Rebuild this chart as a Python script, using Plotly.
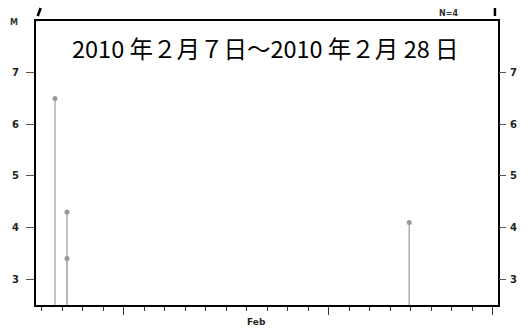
import plotly.graph_objects as go

# Event catalogue for the period
event_times = ["2010-02-07 15:34", "2010-02-08 05:37", "2010-02-08 05:38", "2010-02-24 22:20"]
magnitudes = [6.5, 4.3, 3.4, 4.1]

y_ticks = [3, 4, 5, 6, 7]
y_range = [2.5, 8.0]
x_range = ["2010-02-06 17:20", "2010-03-01 06:15"]
major_days = ["2010-02-11", "2010-02-21", "2010-03-01"]
month_label = "Feb"
month_label_at = "2010-02-17 11:00"
title_text = "2010 年２月７日～2010 年２月 28 日"
count_text = "N=%d" % len(magnitudes)

stem_color = "#b3b3b3"
dot_color = "#999999"
tick_font = dict(family="DejaVu Sans", size=10, color="#222222", weight="bold")
small_font = dict(family="DejaVu Sans", size=8, color="#333333", weight="bold")

# stems from the bottom of the axis up to each magnitude
sx, sy = [], []
for t, m in zip(event_times, magnitudes):
    sx += [t, t, None]
    sy += [y_range[0], m, None]

fig = go.Figure()
fig.add_trace(go.Scatter(x=sx, y=sy, mode="lines",
                         line=dict(color=stem_color, width=1.6),
                         hoverinfo="skip", showlegend=False))
fig.add_trace(go.Scatter(x=event_times, y=magnitudes, mode="markers",
                         marker=dict(color=dot_color, size=5),
                         showlegend=False))
# invisible trace that carries the right-hand magnitude axis
fig.add_trace(go.Scatter(x=[event_times[0]], y=[magnitudes[0]], yaxis="y2",
                         mode="markers", marker=dict(opacity=0),
                         hoverinfo="skip", showlegend=False))

fig.update_layout(
    width=532, height=331,
    margin=dict(l=36, r=34, t=21, b=26),
    paper_bgcolor="white", plot_bgcolor="white",
    xaxis=dict(
        type="date", range=x_range,
        showgrid=False, zeroline=False,
        showline=True, linecolor="black", linewidth=2, mirror=True,
        tickmode="array", tickvals=major_days, ticktext=["", "", ""],
        ticks="outside", ticklen=8, tickwidth=1, tickcolor="#333333",
        minor=dict(dtick=86400000, ticks="outside", ticklen=4,
                   tickwidth=1, tickcolor="#333333", showgrid=False),
    ),
    yaxis=dict(
        range=y_range, tickvals=y_ticks,
        showgrid=False, zeroline=False,
        showline=True, linecolor="black", linewidth=2, mirror=True,
        ticks="outside", ticklen=8, tickwidth=1, tickcolor="#555555",
        tickfont=tick_font, ticklabelstandoff=5,
    ),
    yaxis2=dict(
        range=y_range, tickvals=y_ticks, overlaying="y", side="right",
        showgrid=False, zeroline=False, showline=False,
        ticks="outside", ticklen=7, tickwidth=1, tickcolor="#555555",
        tickfont=tick_font, ticklabelstandoff=2,
    ),
    annotations=[
        dict(text=title_text, xref="paper", yref="paper", x=0.495, y=0.905,
             xanchor="center", yanchor="middle", showarrow=False,
             font=dict(family="Noto Sans CJK JP", size=23.5, color="black")),
        dict(text=month_label, xref="x", yref="paper", x=month_label_at, y=-0.06,
             xanchor="center", yanchor="middle", showarrow=False,
             font=dict(family="DejaVu Sans", size=9, color="#222222", weight="bold")),
        dict(text="M", xref="paper", yref="paper", x=-0.047, y=0.996,
             xanchor="center", yanchor="middle", showarrow=False, font=small_font),
        dict(text=count_text, xref="paper", yref="paper", x=0.892, y=1.025,
             xanchor="center", yanchor="middle", showarrow=False, font=small_font),
    ],
    shapes=[
        dict(type="line", xref="x", yref="paper",
             x0="2010-02-06 19:20", x1="2010-02-06 22:50",
             y0=1.0176, y1=1.0458, line=dict(color="black", width=2.5)),
        dict(type="line", xref="x", yref="paper",
             x0="2010-03-01 02:40", x1="2010-03-01 02:40",
             y0=1.0176, y1=1.0458, line=dict(color="black", width=2.5)),
    ],
)

fig.write_html("out.html")
